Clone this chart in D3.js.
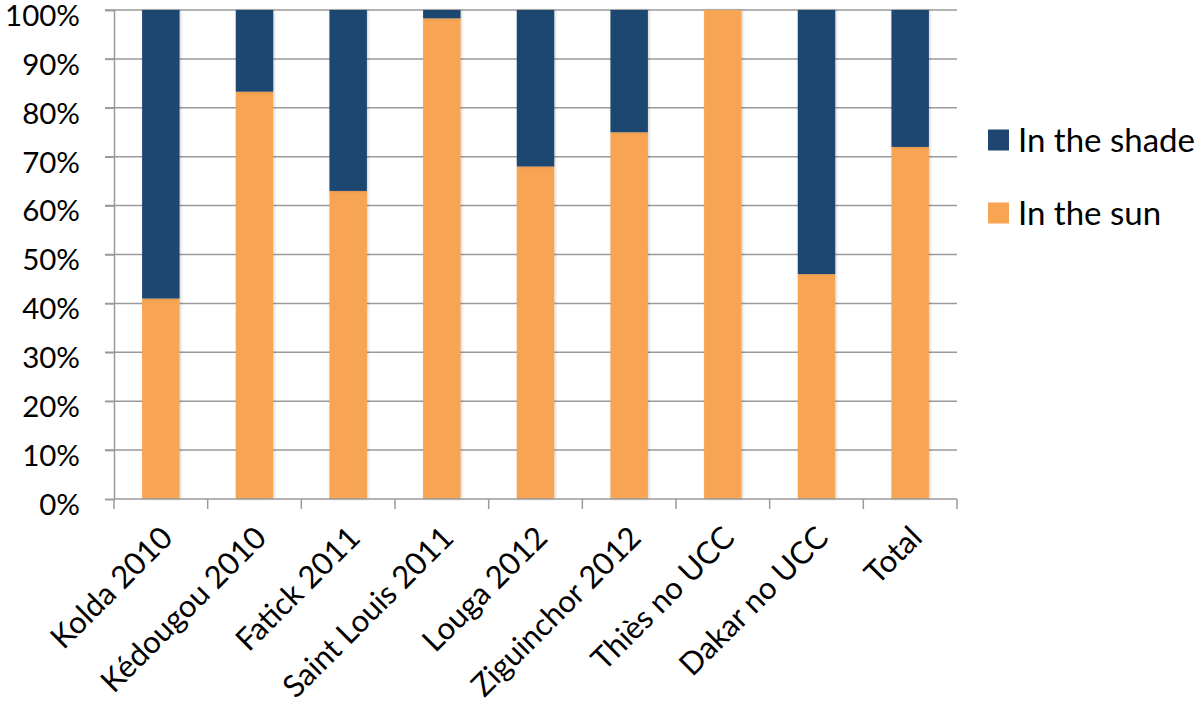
<!DOCTYPE html>
<html>
<head>
<meta charset="utf-8">
<script src="https://cdn.jsdelivr.net/npm/d3@7"></script>
<style>
  html, body { margin: 0; padding: 0; background: #fff; }
  svg { display: block; }
  text { font-family: Lato, "Open Sans", sans-serif; fill: #000; }
</style>
</head>
<body>
<svg id="chart" width="1200" height="718"></svg>
<script>
const categories = ["Kolda 2010", "Kédougou 2010", "Fatick 2011", "Saint Louis 2011", "Louga 2012", "Ziguinchor 2012", "Thiès no UCC", "Dakar no UCC", "Total"];
const sunValues = [41, 83.3, 63, 98.3, 68, 75, 100, 46, 72];
const shadeValues = [59, 16.7, 37, 1.7, 32, 25, 0, 54, 28];
const seriesNames = ["In the shade", "In the sun"];
const seriesColors = ["#1f4670", "#f7a553"];
const yTicks = [0, 10, 20, 30, 40, 50, 60, 70, 80, 90, 100];

const svg = d3.select("#chart");
const plotLeft = 114, plotRight = 957, plotTop = 10, plotBottom = 499;

const x = d3.scaleBand().domain(categories).range([plotLeft, plotRight]).paddingInner(0.6).paddingOuter(0.3);
const y = d3.scaleLinear().domain([0, 100]).range([plotBottom, plotTop]);

const gridColor = "#9a9a9a";

// gridlines
svg.append("g").selectAll("line").data(yTicks.filter(d => d > 0)).join("line")
  .attr("x1", plotLeft - 9).attr("x2", plotRight)
  .attr("y1", d => y(d)).attr("y2", d => y(d))
  .attr("stroke", gridColor).attr("stroke-width", 1.5);

// y axis
const yAxis = d3.axisLeft(y).tickValues(yTicks).tickFormat(d => d + "%").tickSize(9).tickPadding(25);
const gy = svg.append("g").attr("transform", `translate(${plotLeft},0)`).call(yAxis);
gy.select(".domain").attr("stroke", gridColor).attr("stroke-width", 1.5);
gy.selectAll(".tick line").attr("stroke", gridColor).attr("stroke-width", 1.5);
gy.selectAll(".tick text").attr("font-size", 29.5).attr("font-family", "Lato, sans-serif").attr("fill", "#000").attr("dy", "0.52em");

// stacked data
const rows = categories.map((c, i) => ({ cat: c, sun: sunValues[i], shade: shadeValues[i] }));
const stack = d3.stack().keys(["sun", "shade"]);
const stacked = stack(rows);
const colorFor = { sun: seriesColors[1], shade: seriesColors[0] };

// bar shadow filter
const defs = svg.append("defs");
const f = defs.append("filter").attr("id", "shadow").attr("x", "-20%").attr("y", "-5%").attr("width", "140%").attr("height", "110%");
f.append("feDropShadow").attr("dx", 1).attr("dy", 0).attr("stdDeviation", 1.5).attr("flood-color", "#000").attr("flood-opacity", 0.2);

const bars = svg.append("g");
stacked.forEach(layer => {
  bars.append("g").attr("fill", colorFor[layer.key]).attr("filter", "url(#shadow)")
    .selectAll("rect").data(layer.filter(d => d[1] - d[0] > 0)).join("rect")
    .attr("x", d => x(d.data.cat))
    .attr("width", x.bandwidth())
    .attr("y", d => y(d[1]))
    .attr("height", d => y(d[0]) - y(d[1]));
});

// x axis
const step = (plotRight - plotLeft) / categories.length;
const tickPos = d3.range(categories.length + 1).map(i => plotLeft + i * step);
svg.append("line").attr("x1", plotLeft).attr("x2", plotRight).attr("y1", plotBottom).attr("y2", plotBottom)
  .attr("stroke", gridColor).attr("stroke-width", 1.5);
svg.append("g").selectAll("line").data(tickPos).join("line")
  .attr("x1", d => d).attr("x2", d => d).attr("y1", plotBottom).attr("y2", plotBottom + 10)
  .attr("stroke", gridColor).attr("stroke-width", 1.5);

// x labels
svg.append("g").selectAll("text").data(categories).join("text")
  .attr("transform", d => `translate(${x(d) + x.bandwidth() / 2 + 6},${plotBottom + 33}) rotate(-45)`)
  .attr("text-anchor", "end")
  .attr("dy", "0.35em")
  .attr("font-size", 31)
  .text(d => d);

// legend
const legend = svg.append("g");
const legY = [140, 213];
seriesNames.forEach((name, i) => {
  legend.append("rect").attr("x", 988).attr("y", legY[i] - 10.5).attr("width", 21).attr("height", 21)
    .attr("fill", seriesColors[i]);
  legend.append("text").attr("x", 1018).attr("y", legY[i]).attr("dy", "0.36em")
    .attr("font-size", 33).text(name);
});
</script>
</body>
</html>
